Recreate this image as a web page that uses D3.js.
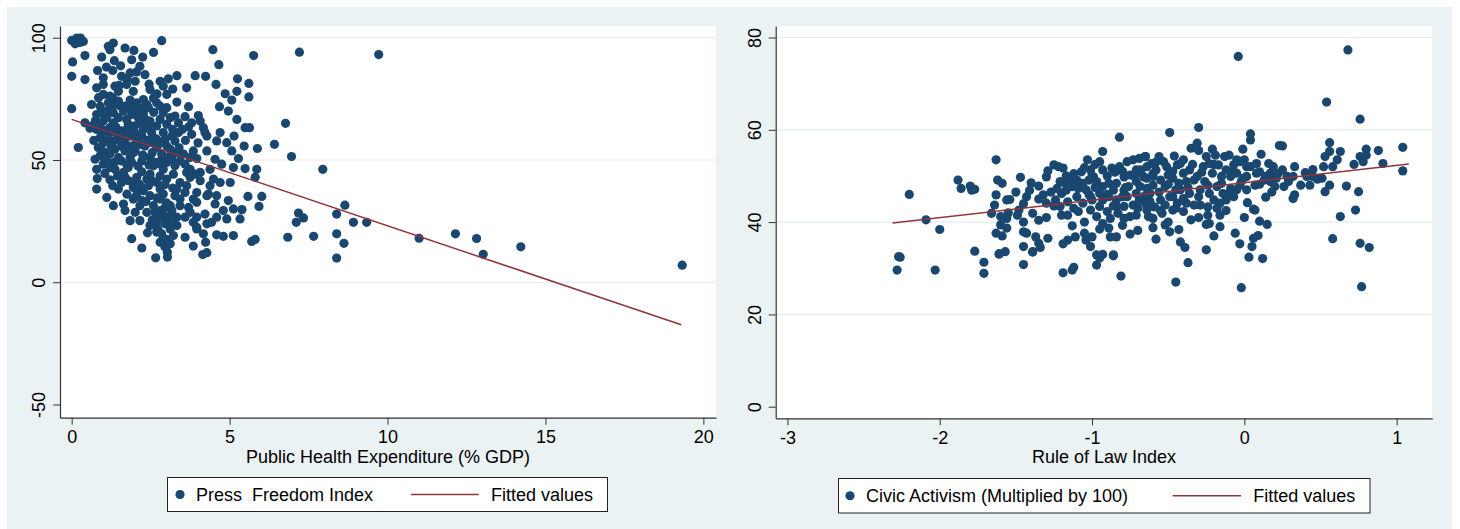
<!DOCTYPE html>
<html>
<head>
<meta charset="utf-8">
<script src="https://cdn.jsdelivr.net/npm/d3@7"></script>
<style>
  html, body { margin: 0; padding: 0; background: #ffffff; }
  svg { display: block; }
  text { font-family: "Liberation Sans", Arial, Helvetica, sans-serif; fill: #000; white-space: pre; }
</style>
</head>
<body>
<script>
// ---------------- DATA ----------------
const leftXTicks = [0, 5, 10, 15, 20];
const leftYTicks = [-50, 0, 50, 100];
const rightXTicks = [-3, -2, -1, 0, 1];
const rightYTicks = [0, 20, 40, 60, 80];

const leftXTitle = "Public Health Expenditure (% GDP)";
const rightXTitle = "Rule of Law Index";
const leftSeriesLabel = "Press  Freedom Index";
const rightSeriesLabel = "Civic Activism (Multiplied by 100)";
const fitLabel = "Fitted values";

// Press Freedom Index vs Public Health Expenditure (% GDP)
const pressFreedomPoints = [
[0.0,98.9],[0.16,99.9],[0.28,99.9],[0.11,97.5],[0.26,98.1],[0.37,98.5],
[0.03,90.1],[0.0,84.2],[0.0,71.0],[0.21,55.1],[0.42,92.7],[0.42,82.9],[0.42,65.2],[0.58,63.0],
[1.16,96.5],[1.32,97.8],[1.21,95.1],[1.69,95.8],[1.97,94.8],[2.25,92.1],[2.59,94.0],[2.85,98.8],[0.95,92.1],[1.35,90.6],[4.47,95.1],[5.76,92.7],[7.21,94.1],[4.66,89.0],[9.72,93.1],
[0.82,86.6],[1.0,83.6],[1.30,86.6],[1.58,84.2],[1.85,85.6],[2.16,88.3],[2.32,84.9],[2.01,82.2],[1.74,80.9],[1.37,80.2],[0.79,79.5],[1.0,80.9],[2.80,82.2],[3.06,83.2],[3.33,84.5],[3.91,84.5],[4.24,84.2],[3.64,79.5],[4.57,80.9],[5.25,83.2],[5.61,81.3],[5.23,78.1],[5.61,75.8],[4.86,77.1],[5.07,74.5],[2.48,78.8],[2.90,80.2],[1.21,76.1],[1.48,78.1],[1.95,78.1],
[0.63,72.7],[0.90,72.0],[1.16,73.4],[1.48,74.1],[1.85,74.5],[2.27,74.7],[2.59,75.4],[3.01,76.8],[3.33,73.7],[2.80,72.0],[2.43,71.4],[2.06,70.7],[1.64,70.0],[1.32,69.3],[0.79,68.6],[3.70,71.8],[2.90,69.3],[3.27,68.0],[3.59,67.7],[4.01,68.2],[4.68,71.8],[4.96,70.0],[5.23,66.6],[5.49,63.2],[5.63,63.2],[6.77,65.0],[0.63,63.9],[1.0,65.9],[1.32,65.2],[1.74,66.6],[2.16,65.2],[2.48,65.9],[2.69,63.9],[3.01,64.6],[3.38,65.2],[3.80,65.2],[4.07,65.9],[4.17,63.2],[1.11,70.0],[1.90,68.6],[2.27,69.0],
[0.79,62.5],[0.90,59.1],[1.21,61.2],[1.53,57.8],[1.85,59.8],[2.22,59.8],[2.53,61.2],[2.90,61.2],[3.17,59.8],[3.38,61.2],[3.80,60.5],[4.22,61.2],[4.28,59.8],[4.70,61.2],[4.59,57.8],[4.91,57.1],[5.14,59.8],[5.46,55.7],[5.88,54.7],[6.42,56.4],[6.96,51.4],[0.84,55.1],[1.06,53.0],[1.37,54.4],[1.69,53.7],[2.01,53.7],[2.32,55.7],[2.69,55.1],[3.01,55.7],[3.33,53.0],[3.54,52.4],[3.85,53.7],[4.28,53.7],[5.07,53.7],[5.28,50.6],[0.74,50.3],[1.11,50.3],[1.48,51.0],[1.85,51.0],[2.48,51.0],[2.85,50.3],[3.17,50.3],[3.96,50.6],[4.54,50.3],[2.06,57.8],[2.69,58.5],
[0.79,46.2],[1.21,46.9],[1.64,44.9],[2.22,45.2],[2.59,47.6],[2.90,46.2],[3.27,47.6],[3.75,46.2],[4.07,44.9],[4.38,46.2],[4.75,48.3],[5.12,46.9],[5.49,46.5],[5.86,46.2],[5.81,42.9],[7.95,46.2],[0.81,42.4],[1.21,41.9],[1.58,40.8],[2.01,40.8],[2.38,42.2],[2.69,40.8],[3.01,42.2],[3.43,40.8],[3.75,42.9],[4.07,41.5],[4.49,42.2],[5.02,40.8],[0.79,38.1],[1.48,38.1],[1.95,38.8],[2.27,37.4],[2.80,38.1],[3.33,38.1],[3.64,39.5],[3.96,36.7],[4.33,36.1],
[1.11,34.7],[1.32,31.3],[1.64,32.0],[1.95,34.0],[2.22,33.4],[2.59,31.3],[2.80,34.0],[3.12,31.3],[3.43,34.0],[3.70,30.6],[3.96,32.7],[4.28,35.4],[4.54,32.0],[4.96,33.4],[5.12,30.0],[5.39,29.7],[5.58,35.1],[6.02,35.1],[5.93,31.0],[1.69,29.3],[2.01,28.6],[2.64,28.6],[2.90,27.3],[3.17,29.3],[3.59,26.6],[3.96,26.6],[4.22,27.9],[4.59,26.6],[4.91,25.9],[5.33,25.9],[1.85,25.2],[2.16,25.2],[2.69,24.5],[2.96,23.9],[3.33,23.2],[3.96,22.5],[4.28,23.9],[7.18,28.3],[7.34,26.3],[7.11,24.5],
[1.90,17.8],[2.40,20.2],[2.75,21.1],[2.90,17.8],[3.22,19.1],[2.80,16.4],[3.12,15.7],[3.59,18.4],[3.96,21.8],[4.17,19.8],[4.24,16.4],[4.59,19.4],[4.80,18.8],[5.12,19.1],[5.70,16.7],[5.81,17.5],[6.84,18.4],[7.66,18.8],[8.39,19.8],[8.39,9.9],[2.22,14.0],[2.66,10.0],[3.03,12.3],[3.03,10.3],[3.85,14.8],[4.15,11.3],[4.28,12.1],
[8.65,31.5],[8.39,27.9],[8.92,24.5],[9.34,24.5],[8.62,15.9],[11.0,18.0],[12.15,19.8],[12.82,17.9],[13.03,11.4],[14.22,14.5],[19.33,7.0],
[1.0,76.8],[1.37,72.7],[1.69,72.0],[2.06,73.4],[2.38,72.7],[2.69,73.4],[3.01,71.4],[1.11,67.3],[1.48,67.3],[1.79,64.6],[2.11,67.3],[2.43,63.9],[2.80,66.6],[3.12,67.3],[0.90,63.9],[1.21,63.2],[1.58,61.9],[1.95,62.5],[2.27,62.5],[2.59,59.1],[2.96,58.5],[3.27,57.8],[1.0,57.1],[1.32,57.8],[1.69,57.1],[1.90,55.7],[2.16,56.4],[2.53,57.1],[2.85,52.4],[3.12,54.4],[0.90,51.7],[1.21,52.4],[1.58,49.6],[1.90,49.0],[2.22,49.6],[2.64,49.0],[3.01,49.0],[3.43,49.6],[3.59,48.3],[1.0,48.3],[1.37,46.2],[1.79,46.9],[2.06,42.9],[2.48,44.2],[2.80,43.5],[3.22,44.2],[3.64,44.9],[3.91,44.2],[1.69,42.9],[2.11,38.1],[2.43,39.5],[2.48,35.4],[2.90,36.1],[3.27,35.4],[3.59,36.7],[2.16,31.3],[2.38,28.6],[2.80,29.3],[3.01,25.2],[2.69,20.5],[2.48,23.2],[2.85,19.8],[3.12,21.8],[3.33,26.6],[3.75,28.6],[3.85,24.5],[3.43,31.3],[3.85,34.0],[4.59,35.4],[4.38,39.5],[4.70,40.8],[4.80,29.3],[4.43,24.5],
[0.7,58.0],[0.95,61.0],[1.15,58.5],[1.45,60.5],[1.7,62.0],[2.0,64.0],[2.35,66.5],[2.6,69.5],[2.2,71.0],[1.85,71.5],[1.55,72.0],[1.25,71.0],[0.95,69.5],[0.75,66.0],[1.05,62.0],[1.4,63.5],[1.65,59.5],[2.1,60.5],[2.4,58.0],[2.75,56.5],[2.55,53.0],[2.25,52.0],[1.95,53.0],[1.6,55.5],[1.25,55.5],[0.95,54.0],[1.35,49.0],[1.75,48.0],[2.1,47.5],[2.45,48.0],[2.75,48.5],[3.1,51.5],[3.4,55.0],[3.6,58.0],[3.5,62.5],[3.2,62.5],[3.7,63.5],[4.0,57.0],[3.75,51.0],[1.05,44.5],[1.45,43.5],[1.8,41.5],[2.15,40.0],[2.55,41.5],[2.95,40.0],[3.2,38.5],[1.3,39.5],[1.75,36.0],[2.05,35.5],[2.35,33.0],[2.7,34.5],[3.0,32.5],[2.75,26.5],[2.55,25.5],[3.15,27.5],[2.95,30.5],[3.15,24.0],[2.7,22.5],[3.0,17.5],[2.95,14.5],[1.5,80.5],[1.75,83.0],[2.05,86.0],[1.1,88.0],[2.45,81.0],[2.7,77.0],[1.3,75.5],[0.85,75.5],[3.2,79.0],[1.55,88.5],[1.9,91.0]
];
const leftFitX = [0.0, 19.3];
const leftFitY = [66.6, -17.4];

// Civic Activism (x100) vs Rule of Law Index
const civicActivismPoints = [
[-2.20,46.0],[-2.09,40.5],[-2.00,38.4],[-2.27,32.5],[-2.28,29.6],[-2.03,29.6],[-1.88,49.1],[-1.86,47.3],[-1.80,47.8],[-1.79,46.9],[-1.77,47.1],[-1.77,33.7],[-1.71,31.3],[-1.71,28.9],
[-1.63,53.5],[-1.62,49.1],[-1.59,48.4],[-1.63,45.9],[-1.64,43.7],[-1.66,41.9],[-1.60,39.4],[-1.63,37.6],[-1.59,37.0],[-1.56,38.7],[-1.60,41.2],[-1.56,40.8],[-1.61,33.1],[-1.57,33.6],[-1.56,44.8],[-1.54,44.9],
[-1.48,42.6],[-1.49,41.5],[-1.47,49.7],[-1.45,37.9],[-1.43,37.6],[-1.45,34.7],[-1.45,30.8],[-1.43,45.5],[-1.41,46.9],[-1.39,41.9],[-1.35,40.4],[-1.37,36.8],[-1.35,35.4],[-1.39,33.6],[-1.34,34.5],[-1.29,36.5],[-1.35,47.8],
[-1.32,45.9],[-1.30,44.1],[-1.25,43.5],[-1.30,49.8],[-1.29,51.1],[-1.25,52.4],[-1.22,52.0],[-1.19,51.7],[-1.17,50.0],[-1.23,47.3],[-1.20,46.2],[-1.17,46.9],[-1.13,47.7],[-1.24,44.8],[-1.21,43.4],[-1.16,44.4],[-1.16,41.5],[-1.13,39.2],[-1.19,35.3],[-1.16,36.1],[-1.11,36.8],[-1.19,29.0],[-1.13,29.6],[-1.12,30.2],
[-1.09,47.3],[-1.06,48.4],[-1.02,49.1],[-0.99,49.8],[-0.97,48.8],[-1.07,50.9],[-1.03,53.5],[-1.01,51.3],[-1.10,45.5],[-1.06,44.1],[-1.00,44.8],[-0.95,43.4],[-1.09,42.3],[-1.01,42.6],[-1.05,37.6],[-1.00,36.8],[-1.04,36.1],[-1.01,34.7],[-0.97,32.9],[-0.95,32.2],[-0.97,30.7],
[-0.93,55.3],[-0.95,53.1],[-0.93,47.7],[-0.89,48.4],[-0.86,46.9],[-0.89,45.5],[-0.84,44.8],[-0.90,42.3],[-0.88,40.8],[-0.83,41.9],[-0.79,40.8],[-0.89,38.7],[-0.84,36.8],[-0.88,36.8],[-0.86,32.9],[-0.81,28.3],[-0.82,58.4],[-0.75,37.4],
[-0.93,51.3],[-0.87,51.7],[-0.82,52.0],[-0.77,53.1],[-0.73,53.5],[-0.69,53.8],[-0.65,54.2],[-0.79,49.8],[-0.76,47.7],[-0.71,48.8],[-0.66,49.8],[-0.64,47.3],[-0.77,45.5],[-0.73,43.7],[-0.69,44.8],[-0.64,43.4],[-0.75,41.2],[-0.71,41.5],[-0.63,41.2],
[-1.10,49.1],[-1.04,47.0],[-0.95,46.2],[-0.93,44.8],[-0.84,48.4],[-0.79,46.9],[-0.75,50.2],[-0.71,51.3],[-0.64,52.0],[-0.66,45.5],[-0.84,43.4],[-0.97,41.2],[-0.93,39.7],[-0.79,43.4],[-0.71,46.2],[-1.15,49.1],[-1.21,48.8],[-1.01,45.5],
[-2.26,32.4],[-1.61,33.1],[-1.39,33.5],[-0.93,33.0],[-0.86,32.7],
[-0.04,75.9],[0.68,77.3],[0.54,66.0],[0.76,62.3],[-0.49,59.4],[-0.30,60.5],[0.04,59.1],[0.04,57.8],[-0.35,56.0],[-0.31,57.1],[-0.21,55.8],[-0.01,55.8],[0.23,56.6],[0.25,56.5],[0.56,57.2],[0.63,55.3],[0.80,55.8],[0.88,55.5],[1.04,56.2],
[-0.65,54.2],[-0.56,54.2],[-0.46,54.3],[-0.25,54.2],[-0.19,54.5],[-0.13,54.2],[-0.05,53.5],[0.11,54.7],[0.53,54.2],[0.56,55.3],[0.61,53.5],[0.76,54.2],[0.80,54.5],[0.78,53.1],[0.72,52.5],[0.91,52.7],[1.04,51.1],
[-0.685,51.3],[-0.64,49.5],[-0.58,51.3],[-0.51,52.0],[-0.44,52.4],[-0.40,50.6],[-0.55,49.1],[-0.47,49.5],[-0.38,48.8],[-0.33,49.1],[-0.27,52.0],[-0.23,52.7],[-0.17,52.4],[-0.12,51.3],[-0.07,52.4],[-0.03,53.1],[0.015,52.0],
[0.08,52.7],[0.16,52.7],[0.10,50.9],[0.17,50.6],[0.19,49.9],[0.28,49.9],[0.33,52.0],[0.32,49.9],[0.40,50.7],[0.45,51.4],[0.51,49.5],[0.48,49.3],[0.37,48.0],[0.43,48.0],[0.53,46.6],[0.56,48.0],[0.67,47.8],[0.75,46.6],[0.73,42.6],[0.63,41.2],[0.58,36.4],[0.76,35.4],[0.82,34.5],[0.77,26.0],
[-0.02,25.8],[-0.45,27.0],[-0.37,31.2],[-0.25,34.0],[-0.06,37.6],[-0.03,35.3],[0.03,32.4],[0.05,34.7],[0.06,36.5],[0.09,37.1],[0.12,32.1],[0.06,42.8],[0.07,42.6],[0.10,40.2],[0.15,39.5],[0.14,45.4],[0.32,45.1],[0.33,45.9],
[-0.20,37.0],[-0.16,39.0],[-0.23,39.7],[-0.43,38.4],[-0.39,34.5],[-0.42,35.7],[-0.58,36.3],[-0.52,39.4],[-0.49,37.9],[-0.54,41.9],[-0.60,40.8],[-0.47,42.6],[-0.40,42.3],[-0.35,40.5],[-0.38,44.1],[-0.24,43.3],[-0.24,41.5],[-0.16,44.1],
[-0.07,45.5],[-0.03,48.0],[0.015,49.9],[0.07,48.0],[0.13,49.1],[0.20,47.7],[-0.18,47.7],[-0.14,46.2],[-0.09,47.3],[-0.23,46.2],[-0.29,47.0],[-0.36,46.2],[-0.42,47.0],[-0.49,45.5],[-0.55,44.8],[-0.62,46.2],[-0.66,44.4],[-0.52,47.7],[-0.47,45.5],[-0.40,45.1],[-0.33,43.7],[-0.685,47.7],[-0.64,45.9],
[0.04,52.0],[0.08,50.6],[0.14,49.9],[0.17,48.8],[0.21,49.5],[0.26,47.7],[0.41,49.9],[0.45,49.9],[0.58,52.0],[0.52,52.0],
[-0.61,52.7],[-0.53,53.1],[-0.42,52.7],[-0.36,51.3],[-0.31,49.9],[-0.60,49.9],[-0.50,50.2],[-0.43,48.4],[-0.30,45.5],[-0.26,48.8],[-0.21,50.6],[-0.15,49.9],[-0.09,49.9],[-0.05,50.6],[-0.006,49.5],[-0.15,48.4],[-0.05,47.0],[0.015,47.0],[-0.12,44.8],[-0.20,44.8],[-0.44,44.1],[-0.52,43.7],[-0.59,43.3],[-0.64,42.6],[-0.29,43.7],[-0.16,41.5],[0.19,52.0],[0.25,51.3],[0.29,48.8],
[-1.45,44.0],[-1.35,45.0],[-1.27,46.5],[-1.18,48.5],[-1.12,50.5],[-1.05,51.8],[-0.98,52.5],[-1.12,43.0],[-1.02,46.0],[-0.98,47.5],[-0.90,50.0],[-0.85,50.8],[-0.80,51.0],[-0.78,47.5],[-0.72,50.0],[-0.68,50.8],[-0.60,48.0],[-0.56,46.5],[-0.58,53.0],[-0.50,48.2],[-0.45,47.0],[-0.47,51.0],[-0.40,53.5],[-0.37,47.5],[-0.34,52.5],[-0.28,50.8],[-0.24,48.0],[-0.20,52.5],[-0.18,43.0],[-0.10,46.2],[-0.08,51.0],[-0.02,48.8],[0.02,44.2],[0.10,48.2],[0.18,46.5],[0.22,50.5],[-0.90,46.0],[-0.86,43.5],[-0.70,43.0],[-0.62,44.5],[-0.55,42.5],[-0.45,43.0],[-1.40,48.5],[-1.50,46.5],[-1.55,42.0],[-1.45,40.0],[-1.30,41.0],[-1.20,41.5],[-1.05,40.0],[-0.95,38.5],[-0.80,39.3],[-0.70,38.2],[-0.60,38.8],[-0.50,40.0],[-0.30,41.0],[-0.25,39.5],[-0.12,42.5],[0.00,41.0],[-0.80,45.5],[-1.00,50.0],[-0.60,50.5],[-0.30,55.5],[-0.10,54.5],[0.00,53.5]
];
const rightFitX = [-2.31, 1.08];
const rightFitY = [39.8, 52.6];

// ---------------- STYLE / LAYOUT ----------------
const W = 1460, H = 529;
const BG = "#eaf2f3";
const GRID = "#e3ecef";
const MARKER = "#1a476f";
const FIT = "#90353b";
const FONT = 18;
const fmt = d => String(d); // hyphen-minus, like the original

const svg = d3.select("body").append("svg").attr("width", W).attr("height", H);
svg.append("rect").attr("x", 0).attr("y", 0).attr("width", W).attr("height", H).attr("fill", "#fff");
svg.append("rect").attr("x", 7).attr("y", 7).attr("width", 1445).attr("height", 522).attr("fill", BG);

function drawPanel(cfg) {
  const x = d3.scaleLinear().domain(cfg.xDomain).range([cfg.left, cfg.right]);
  const y = d3.scaleLinear().domain(cfg.yDomain).range([cfg.bottom, cfg.top]);
  const g = svg.append("g");

  g.append("rect").attr("x", cfg.left).attr("y", cfg.top)
    .attr("width", cfg.right - cfg.left).attr("height", cfg.bottom - cfg.top).attr("fill", "#fff");

  const ymin = d3.min(cfg.yTicks);
  g.selectAll(".grid").data(cfg.yTicks.filter(t => t !== ymin)).enter().append("line")
    .attr("x1", cfg.left).attr("x2", cfg.right)
    .attr("y1", d => y(d)).attr("y2", d => y(d))
    .attr("stroke", GRID).attr("stroke-width", 1.2);

  g.selectAll(".pt").data(cfg.points).enter().append("circle")
    .attr("cx", d => x(d[0])).attr("cy", d => y(d[1])).attr("r", 4.6)
    .attr("fill", MARKER);

  const fitData = cfg.fitX.map((v, i) => [v, cfg.fitY[i]]);
  g.append("path").datum(fitData)
    .attr("d", d3.line().x(d => x(d[0])).y(d => y(d[1])))
    .attr("fill", "none").attr("stroke", FIT).attr("stroke-width", 1.5);

  const xAxis = g.append("g").attr("transform", `translate(0,${cfg.bottom})`)
    .call(d3.axisBottom(x).tickValues(cfg.xTicks).tickSize(7).tickSizeOuter(0).tickPadding(6).tickFormat(fmt));
  xAxis.selectAll("text").attr("font-size", FONT).attr("fill", "#000")
    .style("font-family", '"Liberation Sans", Arial, sans-serif');
  const yAxis = g.append("g").attr("transform", `translate(${cfg.left},0)`)
    .call(d3.axisLeft(y).tickValues(cfg.yTicks).tickSize(7).tickSizeOuter(0).tickFormat(fmt));
  yAxis.selectAll("text").attr("font-size", FONT).attr("fill", "#000")
    .style("font-family", '"Liberation Sans", Arial, sans-serif')
    .attr("transform", "rotate(-90)")
    .attr("x", 0).attr("y", -15).attr("dy", 0)
    .attr("text-anchor", "middle");
  [xAxis, yAxis].forEach(a => {
    a.select(".domain").attr("stroke", "#333").attr("stroke-width", 1.2);
    a.selectAll(".tick line").attr("stroke", "#333").attr("stroke-width", 1);
  });

  g.append("text").attr("x", (cfg.left + cfg.right) / 2).attr("y", 463)
    .attr("text-anchor", "middle").attr("font-size", FONT).text(cfg.xTitle);

  const L = cfg.legend;
  g.append("rect").attr("x", L.x0).attr("y", L.y0).attr("width", L.x1 - L.x0).attr("height", L.y1 - L.y0)
    .attr("fill", "#fff").attr("stroke", "#222").attr("stroke-width", 1);
  const ly = (L.y0 + L.y1) / 2;
  g.append("circle").attr("cx", L.markerX).attr("cy", ly).attr("r", 4.6).attr("fill", MARKER);
  g.append("text").attr("x", L.markerText).attr("y", ly + 6.5).attr("font-size", FONT)
    .attr("xml:space", "preserve").text(cfg.seriesLabel);
  g.append("line").attr("x1", L.lineX0).attr("x2", L.lineX1).attr("y1", ly).attr("y2", ly)
    .attr("stroke", FIT).attr("stroke-width", 1.5);
  g.append("text").attr("x", L.lineText).attr("y", ly + 6.5).attr("font-size", FONT).text(fitLabel);
}

drawPanel({
  left: 60, right: 716, top: 26, bottom: 417.7,
  xDomain: [-0.37, 20.40], yDomain: [-55.4, 104.8],
  xTicks: leftXTicks, yTicks: leftYTicks,
  points: pressFreedomPoints, fitX: leftFitX, fitY: leftFitY,
  xTitle: leftXTitle, seriesLabel: leftSeriesLabel,
  legend: { x0: 167.5, x1: 607.5, y0: 477.5, y1: 511.5, markerX: 180, markerText: 196, lineX0: 411, lineX1: 478.7, lineText: 491 }
});

drawPanel({
  left: 775.7, right: 1432.3, top: 26, bottom: 418.3,
  xDomain: [-3.077, 1.234], yDomain: [-2.51, 82.49],
  xTicks: rightXTicks, yTicks: rightYTicks,
  points: civicActivismPoints, fitX: rightFitX, fitY: rightFitY,
  xTitle: rightXTitle, seriesLabel: rightSeriesLabel,
  legend: { x0: 838.5, x1: 1370, y0: 478.5, y1: 513, markerX: 850, markerText: 866, lineX0: 1172.7, lineX1: 1241, lineText: 1253.3 }
});
</script>
</body>
</html>
